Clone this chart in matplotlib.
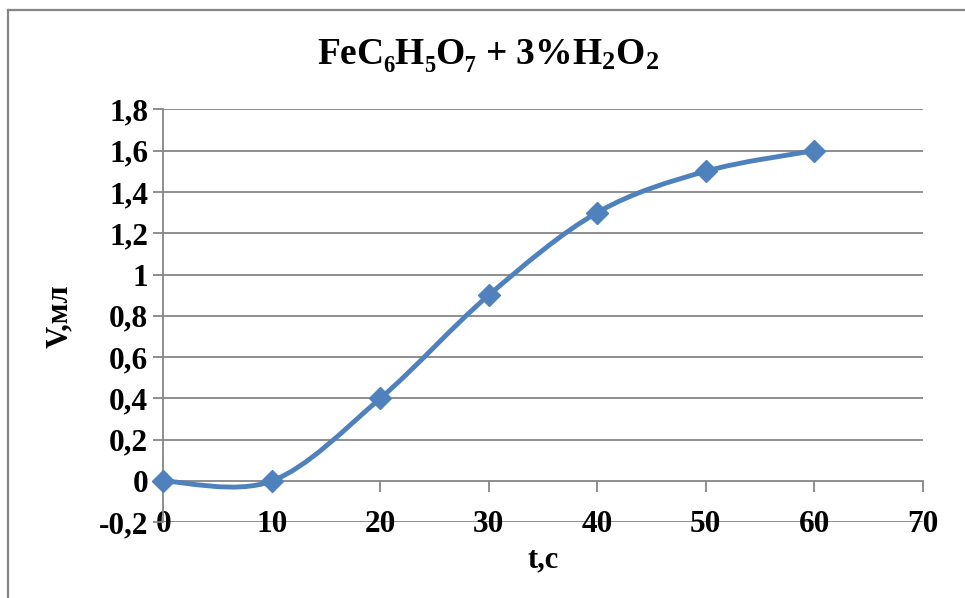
import matplotlib
matplotlib.use("Agg")
import matplotlib.pyplot as plt
from matplotlib.path import Path
from matplotlib.patches import PathPatch
from matplotlib.lines import Line2D
from matplotlib.ticker import FuncFormatter

t_sec = [0, 10, 20, 30, 40, 50, 60]
volume_ml = [0, 0, 0.4, 0.9, 1.3, 1.5, 1.6]
x_ticks = [0, 10, 20, 30, 40, 50, 60, 70]
y_ticks = [-0.2, 0, 0.2, 0.4, 0.6, 0.8, 1.0, 1.2, 1.4, 1.6, 1.8]

BLUE = "#4F81BD"
GRID = "#868686"

plt.rcParams["font.family"] = ["Liberation Serif", "DejaVu Serif"]
plt.rcParams["font.weight"] = "bold"
plt.rcParams["mathtext.fontset"] = "custom"
plt.rcParams["mathtext.rm"] = "Liberation Serif:bold"
plt.rcParams["mathtext.bf"] = "Liberation Serif:bold"
plt.rcParams["mathtext.it"] = "Liberation Serif:bold"


def smooth_path(xs, ys):
    # cubic Bezier through every point, Excel-style smoothing
    pts = list(zip(xs, ys))
    verts = [pts[0]]
    codes = [Path.MOVETO]
    n = len(pts)
    for i in range(n - 1):
        p0 = pts[i - 1] if i > 0 else pts[i]
        p1 = pts[i]
        p2 = pts[i + 1]
        p3 = pts[i + 2] if i + 2 < n else pts[i + 1]
        c1 = (p1[0] + (p2[0] - p0[0]) / 6, p1[1] + (p2[1] - p0[1]) / 6)
        c2 = (p2[0] - (p3[0] - p1[0]) / 6, p2[1] - (p3[1] - p1[1]) / 6)
        verts += [c1, c2, p2]
        codes += [Path.CURVE4] * 3
    return Path(verts, codes)


fig = plt.figure(figsize=(9.65, 5.98), dpi=100)
ax = fig.add_axes([0.1692, 0.1266, 0.7870, 0.6906])

for y in y_ticks:
    if y != 0:
        ax.axhline(y, color=GRID, lw=1.3, zorder=1)

# x axis sits on y = 0
ax.spines["bottom"].set_position(("data", 0))
ax.spines["bottom"].set_color(GRID)
ax.spines["bottom"].set_linewidth(1.3)
ax.spines["left"].set_color(GRID)
ax.spines["left"].set_linewidth(1.3)
ax.spines["top"].set_visible(False)
ax.spines["right"].set_visible(False)

ax.add_patch(PathPatch(smooth_path(t_sec, volume_ml), fill=False,
                       edgecolor=BLUE, lw=3.5, zorder=3, capstyle="round"))
ax.plot(t_sec, volume_ml, ls="none", marker="D", ms=11.5,
        color=BLUE, zorder=4, clip_on=False)

ax.set_xlim(0, 70)
ax.set_ylim(-0.2, 1.8)
ax.set_xticks(x_ticks)
ax.set_yticks(y_ticks)
ax.yaxis.set_major_formatter(FuncFormatter(
    lambda v, p: ("%g" % round(v, 1)).replace(".", ",")))
ax.tick_params(axis="x", direction="out", length=8, width=1.3, color=GRID,
               labelsize=22.5, pad=13)
ax.tick_params(axis="y", direction="out", length=7, width=1.3, color=GRID,
               labelsize=22.5, pad=4)
for lbl in ax.get_xticklabels() + ax.get_yticklabels():
    lbl.set_fontweight("bold")

ax.set_xlabel("t,c", fontsize=22, fontweight="bold")
ax.xaxis.set_label_coords(0.5, -0.055)
ax.set_ylabel("V,мл", fontsize=22, fontweight="bold")
ax.yaxis.set_label_coords(-0.118, 0.5)

fig.text(0.506, 0.908, "FeC₆H₅O₇ + 3%H$_2$O$_2$", ha="center", va="center",
         fontsize=27, fontweight="bold")

# outer chart frame
fig.add_artist(Line2D([7.5 / 965, 7.5 / 965], [1 - 9.5 / 598, 0],
                      color=GRID, lw=1.6, transform=fig.transFigure))
fig.add_artist(Line2D([7.5 / 965, 1], [1 - 9.5 / 598, 1 - 9.5 / 598],
                      color=GRID, lw=1.6, transform=fig.transFigure))

fig.savefig("out.png", dpi=100)
